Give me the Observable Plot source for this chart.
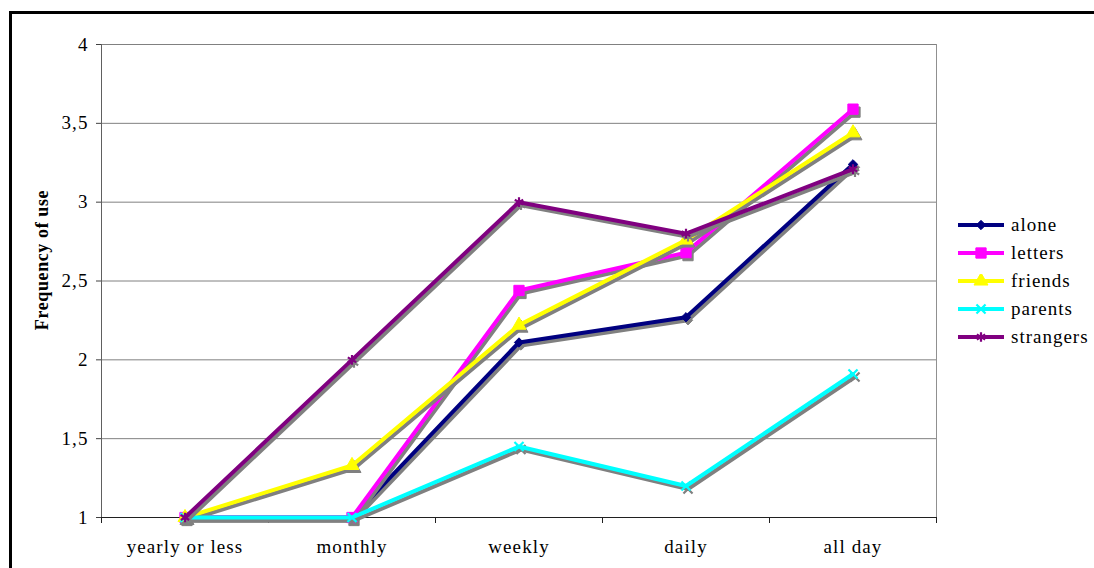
<!DOCTYPE html>
<html>
<head>
<meta charset="utf-8">
<script src="https://cdn.jsdelivr.net/npm/d3@7"></script>
<script src="https://cdn.jsdelivr.net/npm/@observablehq/plot@0.6"></script>
<style>
  html, body { margin: 0; padding: 0; background: #fff; }
  #wrap { position: relative; width: 1094px; height: 568px; overflow: hidden; background: #fff; }
  #frame { position: absolute; left: 9px; top: 11px; width: 2000px; height: 2000px; border: 3px solid #000; box-sizing: border-box; pointer-events: none; }
  #chart { position: absolute; left: 0; top: 0; }
  #chart svg, #chart svg text { font-family: "Liberation Serif", serif !important; }
  #chart svg text { font-size: 19px; letter-spacing: 1.1px; fill: #000; }
  #ylabel { position: absolute; left: 42px; top: 260px; transform: translate(-50%, -50%) rotate(-90deg);
    font-family: "Liberation Serif", serif; font-weight: bold; font-size: 18px; white-space: nowrap; letter-spacing: 0.6px; }
  #legend { position: absolute; left: 957px; top: 211px; font-family: "Liberation Serif", serif; font-size: 19px; letter-spacing: 1px; }
  #legend .row { display: flex; align-items: center; height: 28px; }
  #legend svg { margin-right: 6px; }
</style>
</head>
<body>
<div id="wrap">
  <div id="chart"></div>
  <div id="ylabel">Frequency of use</div>
  <div id="legend"></div>
  <div id="frame"></div>
</div>
<script>
// Usage frequency by time-of-use category
const categories = ["yearly or less", "monthly", "weekly", "daily", "all day"];
const alone     = [1, 1,    2.11, 2.27, 3.24];
const letters   = [1, 1,    2.44, 2.68, 3.59];
const friends   = [1, 1.33, 2.22, 2.76, 3.44];
const parents   = [1, 1,    1.45, 1.20, 1.91];
const strangers = [1, 2,    3.00, 2.80, 3.21];
const yTicks = [1, 1.5, 2, 2.5, 3, 3.5, 4];

const seriesNames = ["alone", "letters", "friends", "parents", "strangers"];
const seriesValues = [alone, letters, friends, parents, strangers];
const seriesColors = ["#000080", "#ff00ff", "#ffff00", "#00ffff", "#800080"];
const seriesSymbols = ["diamond2", "square", "triangle", "times", "asterisk"];
const symbolFilled = [true, true, true, false, false];
const symbolR = [4.2, 5.8, 5.2, 4.2, 4.6];

const rows = seriesNames.map((name, s) =>
  seriesValues[s].map((v, i) => ({series: name, s, x: i + 0.5, category: categories[i], value: v}))
);

const shadow = "#808080";
const marks = [
  Plot.gridY(yTicks.filter(d => d > 1), {stroke: "#808080", strokeOpacity: 1}),
  Plot.ruleX([5], {stroke: "#909090"}),
  Plot.ruleX([0], {stroke: "#606060"}),
  Plot.axisY({ticks: yTicks, tickSize: 5, tickPadding: 8, tickFormat: d => String(d).replace(".", ","),
    label: null, stroke: "#404040"}),
  Plot.axisX({ticks: [0, 1, 2, 3, 4, 5], tickSize: 6, tickFormat: () => "", label: null, stroke: "#202020"}),
  Plot.axisX({ticks: [0.5, 1.5, 2.5, 3.5, 4.5], tickSize: 0, tickPadding: 22,
    tickFormat: d => categories[Math.floor(d)], label: null}),
  Plot.ruleY([1], {stroke: "#202020"})
];

rows.forEach((data, s) => {
  const dotOpts = (color, extra) => Object.assign({
    x: "x", y: "value", symbol: () => seriesSymbols[s], r: symbolR[s],
    fill: symbolFilled[s] ? color : "none",
    stroke: color, strokeWidth: symbolFilled[s] ? 1 : 2.2
  }, extra);
  marks.push(
    Plot.line(data, {x: "x", y: "value", stroke: shadow, strokeWidth: 4, dx: 2, dy: 3, strokeLinejoin: "miter"}),
    Plot.dot(data, dotOpts(shadow, {dx: 2, dy: 3})),
    Plot.line(data, {x: "x", y: "value", stroke: seriesColors[s], strokeWidth: 4, strokeLinejoin: "miter"}),
    Plot.dot(data, dotOpts(seriesColors[s], {}))
  );
});

const chart = Plot.plot({
  width: 1094,
  height: 568,
  marginLeft: 101,
  marginRight: 158,
  marginTop: 44,
  marginBottom: 51,
  style: {background: "transparent"},
  x: {type: "linear", domain: [0, 5], axis: null},
  y: {type: "linear", domain: [1, 4], axis: null},
  symbol: {type: "identity"},
  marks
});
document.getElementById("chart").appendChild(chart);

// Legend with line swatches and markers
const legend = d3.select("#legend");
const symbolMap = {diamond2: d3.symbolDiamond2, square: d3.symbolSquare, triangle: d3.symbolTriangle, times: d3.symbolTimes, asterisk: d3.symbolAsterisk};
seriesNames.forEach((name, s) => {
  const row = legend.append("div").attr("class", "row");
  const svg = row.append("svg").attr("width", 48).attr("height", 14);
  svg.append("line").attr("x1", 1).attr("x2", 47).attr("y1", 7).attr("y2", 7)
    .attr("stroke", seriesColors[s]).attr("stroke-width", 4);
  svg.append("path")
    .attr("transform", "translate(24,7)")
    .attr("d", d3.symbol(symbolMap[seriesSymbols[s]], Math.PI * symbolR[s] * symbolR[s])())
    .attr("fill", symbolFilled[s] ? seriesColors[s] : "none")
    .attr("stroke", seriesColors[s]).attr("stroke-width", symbolFilled[s] ? 1 : 2.2);
  row.append("span").text(name);
});
</script>
</body>
</html>
